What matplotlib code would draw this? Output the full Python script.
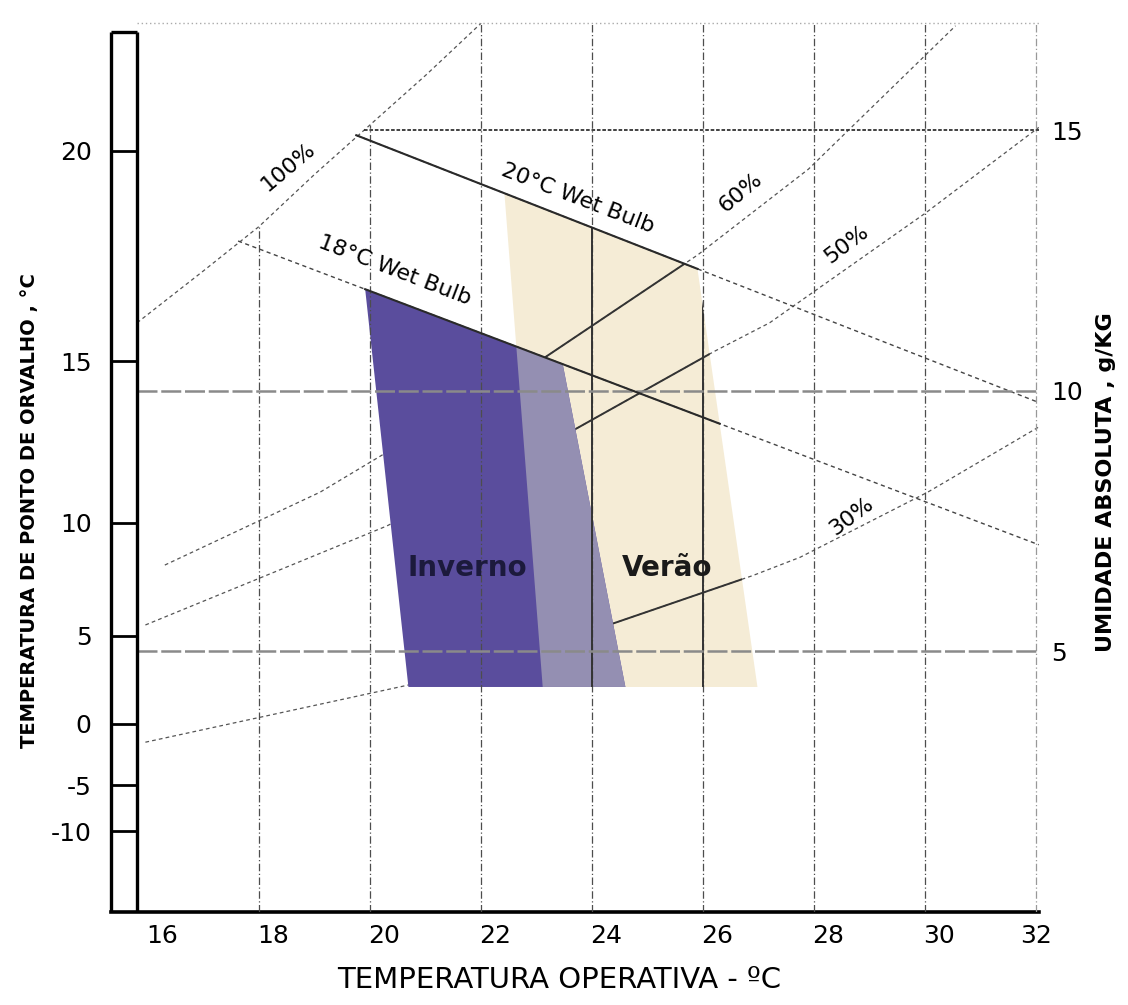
import numpy as np
import matplotlib.pyplot as plt
import matplotlib.transforms as mtransforms
from matplotlib.patches import Polygon

# eixo x: temperatura operativa (C) / eixo y: umidade absoluta (g/kg)
x_ticks = [16, 18, 20, 22, 24, 26, 28, 30, 32]
x_labels = ['16', '18', '20', '22', '24', '26', '28', '30', '32']
w_ticks = [5, 10, 15]
w_labels = ['5', '10', '15']
# escala de ponto de orvalho (esquerda), posicao em g/kg
dp_labels = ['20', '15', '10', '5', '0', '-5', '-10']
dp_w = [14.6, 10.56, 7.46, 5.29, 3.6, 2.42, 1.54]

sat_t = [15.8, 17.0, 18.0, 19.0, 20.0, 21.0, 22.0]
sat_w = [11.3, 12.3, 13.15, 14.15, 15.1, 16.05, 17.05]
rh60_t = [16.3, 19.1, 23.1, 25.9, 27.9, 30.55]
rh60_w = [6.65, 8.05, 10.6, 12.6, 14.25, 17.0]
rh50_t = [15.95, 20.3, 23.6, 26.2, 27.2, 30.0, 32.05]
rh50_w = [5.5, 7.4, 9.2, 10.75, 11.3, 13.4, 15.05]
rh30_t = [15.95, 20.7, 24.3, 26.9, 27.75, 30.05, 32.05]
rh30_w = [3.25, 4.35, 5.5, 6.45, 6.8, 8.05, 9.3]
wb18_t = [17.62, 32.05]
wb18_w = [12.87, 7.04]
wb20_t = [19.75, 32.05]
wb20_w = [14.9, 9.77]
wb18_solid = [19.91, 26.3]
wb20_solid = [19.75, 25.9]

# zonas de conforto
inverno_t = [19.91, 23.47, 24.6, 20.69]
inverno_w = [11.95, 10.51, 4.31, 4.31]
verao_t = [22.42, 25.9, 26.98, 23.11]
verao_w = [13.79, 12.33, 4.31, 4.31]

XMIN, XMAX = 15.33, 32.05
YMAX = 17.05
XIN = 15.8   # linha interna da regua de orvalho
YCAP = 16.88

fig = plt.figure(figsize=(11.28, 10.05), dpi=100)
ax = fig.add_axes([0.0984, 0.0930, 0.8225, 0.8839])
ax.set_xlim(XMIN, XMAX)
ax.set_ylim(0, YMAX)

dash = (0, (3, 2.5))
dashdot = (0, (6, 2, 1, 2))

verao = Polygon(np.column_stack([verao_t, verao_w]), closed=True,
                fc='#f5ecd6', ec='none', zorder=1)
ax.add_patch(verao)
inv = Polygon(np.column_stack([inverno_t, inverno_w]), closed=True,
              fc='#5a4d9d', ec='none', zorder=3)
ax.add_patch(inv)
over = Polygon(np.column_stack([inverno_t, inverno_w]), closed=True,
               fc='#948fb2', ec='none', zorder=3.1)
ax.add_patch(over)
over.set_clip_path(verao)

# umidade relativa e bulbo umido (tracejado)
for t, w in [(sat_t, sat_w), (rh60_t, rh60_w), (rh50_t, rh50_w), (rh30_t, rh30_w)]:
    ax.plot(t, w, color='#555555', lw=0.9, ls=dash, zorder=2)
    l, = ax.plot(t, w, color='#333333', lw=1.4, zorder=2.2)
    l.set_clip_path(verao)
ax.plot(wb18_t, wb18_w, color='#444444', lw=1.0, ls=dash, zorder=2)
ax.plot(wb20_t, wb20_w, color='#444444', lw=1.0, ls=dash, zorder=2)
ax.plot(wb18_solid, np.interp(wb18_solid, wb18_t, wb18_w), color='#2a2a2a', lw=1.5, zorder=4.5)
ax.plot(wb20_solid, np.interp(wb20_solid, wb20_t, wb20_w), color='#2a2a2a', lw=1.5, zorder=4.5)

# linhas de temperatura (verticais)
for t in x_ticks[1:]:
    top = min(np.interp(t, sat_t, sat_w, right=YMAX), YMAX)
    c = '#999999' if t == 32 else '#4d4d4d'
    ax.plot([t, t], [0, top], color=c, lw=0.9, ls=dashdot, zorder=4)
    if t in (24, 26):
        l, = ax.plot([t, t], [0, top], color='#333333', lw=1.4, zorder=4)
        l.set_clip_path(verao)

# linhas de umidade absoluta (horizontais)
t15 = np.interp(15, sat_w, sat_t)
ax.plot([t15, XMAX], [15, 15], color='#333333', lw=1.3, ls=(0, (2, 1)), zorder=4)
for w in (10, 5):
    ax.plot([XIN, XMAX], [w, w], color='#8a8a8a', lw=1.8, ls=(0, (8, 1.5)), zorder=4)

# regua da esquerda
kw = dict(color='black', lw=2.4, clip_on=False, zorder=5, solid_capstyle='butt')
ax.plot([XMIN, XMIN], [0, YCAP], **kw)
ax.plot([XIN, XIN], [0, YCAP], **kw)
ax.plot([XMIN, XIN], [YCAP, YCAP], **kw)
for w in dp_w:
    ax.plot([XMIN, XIN], [w, w], color='black', lw=2.0, clip_on=False, zorder=5)
ax.plot([XIN, XMAX], [YMAX, YMAX], color='#aaaaaa', lw=1.0, ls=(0, (1, 2)), clip_on=False)

for s in ['top', 'right', 'left']:
    ax.spines[s].set_visible(False)
ax.spines['bottom'].set_linewidth(2.6)

ax.set_xticks(x_ticks, x_labels)
ax.tick_params(axis='x', length=0, pad=9, labelsize=18)
ax.set_yticks(dp_w, dp_labels)
ax.tick_params(axis='y', length=0, pad=14, labelsize=18)
offset = mtransforms.ScaledTranslation(10 / 72, 0, fig.dpi_scale_trans)
for lbl in ax.get_xticklabels()[:-1]:
    lbl.set_transform(lbl.get_transform() + offset)

ax2 = ax.twinx()
ax2.set_ylim(0, YMAX)
ax2.set_yticks(w_ticks, w_labels)
ax2.tick_params(axis='y', length=0, pad=9, labelsize=18)
for s in ax2.spines.values():
    s.set_visible(False)

# rotulos das curvas
tk = dict(ha='center', va='center', rotation_mode='anchor', zorder=6, fontsize=16)
ax.text(18.52, 14.29, '100%', rotation=40, **tk)
ax.text(20.45, 12.31, '18°C Wet Bulb', rotation=-21, **tk)
ax.text(23.75, 13.69, '20°C Wet Bulb', rotation=-21, **tk)
ax.text(26.67, 13.81, '60%', rotation=40, **tk)
ax.text(28.58, 12.81, '50%', rotation=37, **tk)
ax.text(28.67, 7.58, '30%', rotation=37, **tk)
ax.text(21.75, 6.6, 'Inverno', fontsize=20, fontweight='bold', color='#1c1a3c',
        ha='center', va='center', zorder=6)
ax.text(25.35, 6.6, 'Verão', fontsize=20, fontweight='bold', color='#1a1a1a',
        ha='center', va='center', zorder=6)

fig.text(559 / 1128, 1 - 980 / 1005, 'TEMPERATURA OPERATIVA - ºC', fontsize=21,
         ha='center', va='center')
fig.text(30 / 1128, 1 - 511 / 1005, 'TEMPERATURA DE PONTO DE ORVALHO , °C', rotation=90,
         fontsize=14, fontweight='bold', ha='center', va='center')
fig.text(1106 / 1128, 1 - 482 / 1005, 'UMIDADE ABSOLUTA , g/KG', rotation=90,
         fontsize=16, fontweight='bold', ha='center', va='center')

fig.savefig('out.png', dpi=100)
